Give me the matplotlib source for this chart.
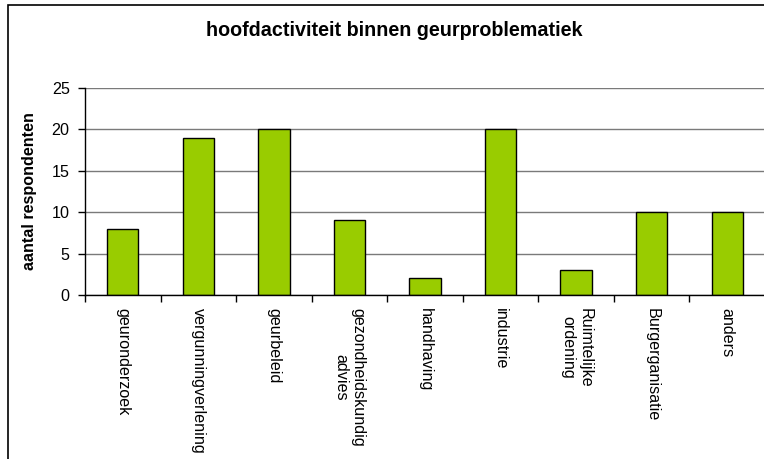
import matplotlib
matplotlib.use("Agg")
import matplotlib.pyplot as plt
from matplotlib.patches import Rectangle
import numpy as np

categories = ["geuronderzoek", "vergunningverlening", "geurbeleid",
              "gezondheidskundig\nadvies", "handhaving", "industrie",
              "Ruimtelijke\nordening", "Burgerganisatie", "anders"]
values = [8, 19, 20, 9, 2, 20, 3, 10, 10]
yticks = [0, 5, 10, 15, 20, 25]
title = "hoofdactiviteit binnen geurproblematiek"
ylabel = "aantal respondenten"

plt.rcParams['font.family'] = ['Liberation Sans', 'DejaVu Sans']

W, H = 764, 459
fig = plt.figure(figsize=(W / 100, H / 100), dpi=100)

# outer chart border (extends beyond right/bottom edges)
fig.patches.append(Rectangle((8 / W, -0.05), 1.1, 1 - 5 / H + 0.05,
                             transform=fig.transFigure, fill=False,
                             edgecolor='black', linewidth=1.2, zorder=0))

left, right = 85 / W, 765 / W
top, bottom = 1 - 88 / H, 1 - 295 / H
ax = fig.add_axes([left, bottom, right - left, top - bottom])

x = np.arange(len(categories))
ax.bar(x, values, width=0.415, color='#99CC00', edgecolor='black',
       linewidth=1.0, zorder=3)

ax.set_xlim(-0.5, len(categories) - 0.5)
ax.set_ylim(0, 25)
ax.set_yticks(yticks)
ax.yaxis.grid(True, color='#7a7a7a', linewidth=1.0, zorder=0)
ax.set_axisbelow(True)

for s in ['top', 'right']:
    ax.spines[s].set_visible(False)
for s in ['left', 'bottom']:
    ax.spines[s].set_color('black')
    ax.spines[s].set_linewidth(1.0)
    ax.spines[s].set_zorder(4)

ax.set_xticks(x)
ax.set_xticklabels(categories, rotation=270, ha='center', va='top',
                   multialignment='center', fontsize=11.6)
ax.set_xticks(np.arange(-0.5, len(categories)), minor=True)
ax.tick_params(axis='x', which='major', length=0, pad=9)
ax.tick_params(axis='x', which='minor', length=5, width=1, color='black',
               direction='out')
ax.tick_params(axis='y', length=5, width=1, color='black', direction='out',
               labelsize=11.6, pad=6)

ax.set_ylabel(ylabel, fontsize=11.6, fontweight='bold', labelpad=10)
ax.yaxis.set_label_coords(-(85 - 37) / 680, 0.5)

fig.text(394 / W, 1 - 31 / H, title, ha='center', va='center',
         fontsize=14.2, fontweight='bold')

fig.savefig("out.png", dpi=100)
